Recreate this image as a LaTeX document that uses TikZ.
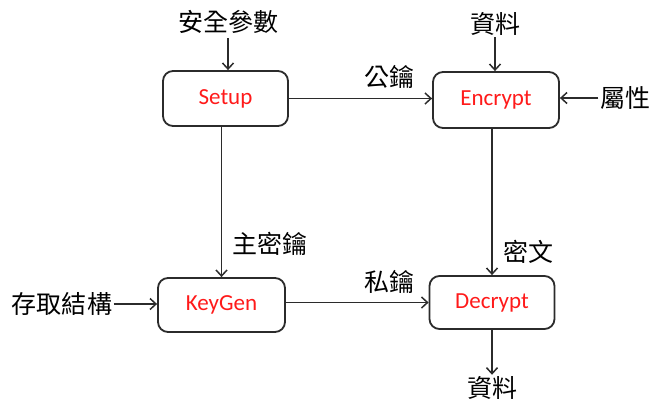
\documentclass[tikz,border=0pt]{standalone}
\usepackage{fontspec}
\setmainfont{Carlito}
\newfontfamily\cjk{Noto Sans CJK TC}
\usetikzlibrary{arrows.meta,calc}
\definecolor{boxline}{HTML}{2B2B2B}
\definecolor{stepred}{HTML}{FF1A1A}
\tikzset{
  stepbox/.style={draw=boxline, line width=1.8pt, rounded corners=10pt, fill=white,
    text=stepred, font=\fontsize{23}{27}\selectfont, inner sep=0pt},
  tag/.style={font=\cjk\fontsize{25}{29}\selectfont, text=black, inner sep=1.5pt},
  flow/.style={draw=boxline, line width=1.5pt,
    -{Straight Barb[length=6pt,width=11pt,line width=1.5pt]}}
}
\begin{document}
\begin{tikzpicture}[x=1pt,y=-1pt]
\useasboundingbox (0,0) rectangle (650,408);

% four processing steps
\node[stepbox, minimum width=125, minimum height=55] (setup)   at (225.5,98.5) {Setup};
\node[stepbox, minimum width=126, minimum height=56] (encrypt) at (496,100)    {Encrypt};
\node[stepbox, minimum width=127, minimum height=54] (keygen)  at (221.5,305)  {KeyGen};
\node[stepbox, minimum width=125, minimum height=53] (decrypt) at (492,302.5)  {Decrypt};

% inputs and outputs
\node[tag] (param)  at (228,22)  {安全參數};
\node[tag] (data)   at (495,24)  {資料};
\node[tag] (attr)   at (625,98)  {屬性};
\node[tag] (access) at (62,304)  {存取結構};
\node[tag] (out)    at (492,388) {資料};

% edge labels
\node[tag] (pk)   at (389,77)  {公鑰};
\node[tag] (msk)  at (270,244) {主密鑰};
\node[tag] (ct)   at (528,252) {密文};
\node[tag] (sk)   at (389,282) {私鑰};

% connectors
\draw[flow] (param.south |- 0,38) -- (param.south |- setup.north);
\draw[flow] (data.south) -- (data.south |- encrypt.north);
\draw[flow] (attr.west) -- (attr.west -| encrypt.east);
\draw[flow] (setup.east) -- (setup.east -| encrypt.west);
\draw[flow] (keygen.north |- setup.south) -- (keygen.north);
\draw[flow] (decrypt.north |- encrypt.south) -- (decrypt.north);
\draw[flow] (access.east) -- (access.east -| keygen.west);
\draw[flow] (keygen.east |- decrypt.west) -- (decrypt.west);
\draw[flow] (decrypt.south) -- (out.north);
\end{tikzpicture}
\end{document}
